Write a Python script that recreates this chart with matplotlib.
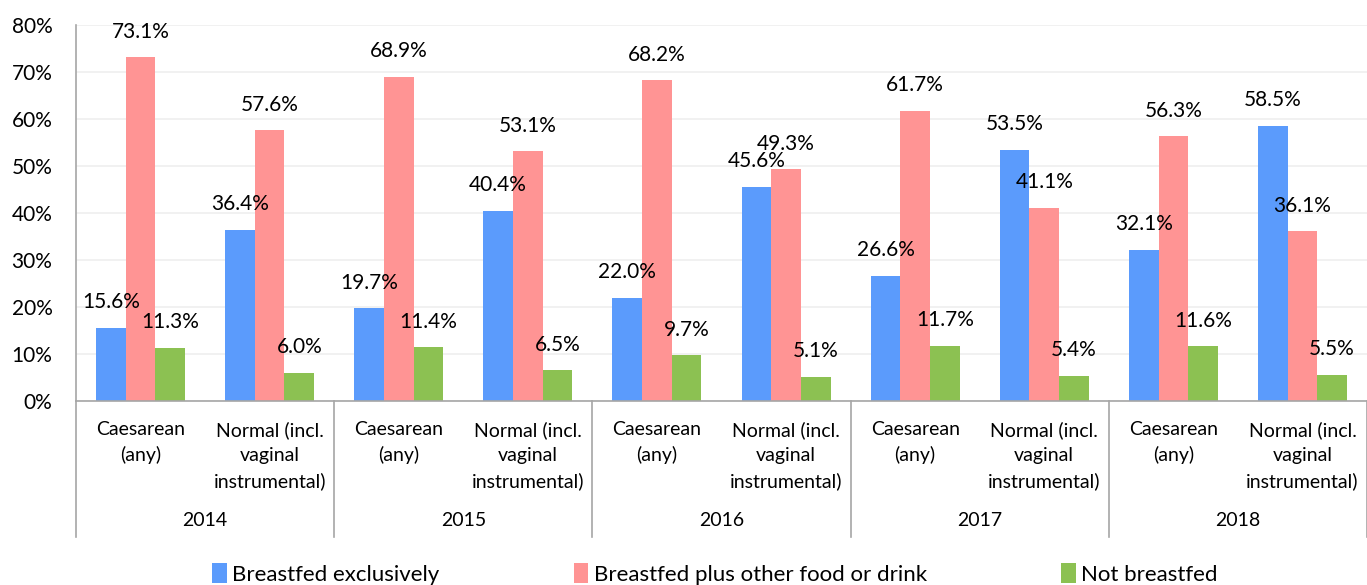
import matplotlib
matplotlib.use("Agg")
import matplotlib.pyplot as plt
from matplotlib.patches import Patch
import matplotlib.transforms as mtransforms
import numpy as np

plt.rcParams['font.family'] = ['Lato', 'DejaVu Sans']

years = ['2014', '2015', '2016', '2017', '2018']
delivery = ['Caesarean\n(any)', 'Normal (incl.\nvaginal\ninstrumental)']
series_names = ['Breastfed exclusively', 'Breastfed plus other food or drink', 'Not breastfed']
exclusive = [15.6, 36.4, 19.7, 40.4, 22.0, 45.6, 26.6, 53.5, 32.1, 58.5]
plus_other = [73.1, 57.6, 68.9, 53.1, 68.2, 49.3, 61.7, 41.1, 56.3, 36.1]
not_bf = [11.3, 6.0, 11.4, 6.5, 9.7, 5.1, 11.7, 5.4, 11.6, 5.5]

colors = ['#5B9BFC', '#FF9494', '#8CC152']

fig = plt.figure(figsize=(13.67, 5.85), dpi=100)
ax = fig.add_axes([76/1367, 1-401/585, 1-76/1367, (401-25)/585])

n = len(exclusive)
x = np.arange(n)
w = 0.23
for i, (vals, c) in enumerate(zip([exclusive, plus_other, not_bf], colors)):
    xs = x + (i - 1) * w
    ax.bar(xs, vals, width=w, color=c, zorder=2)
    for xi, v in zip(xs, vals):
        ax.annotate(f'{v:.1f}%', (xi, v), xytext=(0, 18.5), textcoords='offset points',
                    ha='center', va='center', fontsize=15, color='#000000', zorder=3)

ax.set_xlim(-0.5, n - 0.5)
ax.set_ylim(0, 80)
ax.set_yticks(np.arange(0, 81, 10))
ax.set_yticklabels([f'{t}%' for t in range(0, 81, 10)], fontsize=15)
ax.tick_params(axis='y', length=0, pad=17)
ax.tick_params(axis='x', length=0)
ax.set_xticks([])
ax.grid(axis='y', color='#EFEFEF', linewidth=1.2, zorder=0)
for s in ['top', 'right']:
    ax.spines[s].set_visible(False)
ax.spines['left'].set_color('#A6A6A6')
ax.spines['bottom'].set_color('#A6A6A6')
ax.spines['left'].set_linewidth(1.2)
ax.spines['bottom'].set_linewidth(1.2)

# multi-level category axis
trans = mtransforms.blended_transform_factory(ax.transData, fig.transFigure)
for k in range(n):
    ax.text(k, 1 - 421/585, delivery[k % 2], transform=trans, ha='center', va='top',
            fontsize=14, linespacing=1.55)
for j, yr in enumerate(years):
    ax.text(2 * j + 0.5, 1 - 521/585, yr, transform=trans, ha='center', va='center', fontsize=14)
for b in np.arange(-0.5, n, 2):
    ax.plot([b, b], [1 - 401/585, 1 - 537/585], transform=trans, color='#A6A6A6',
            linewidth=1.2, clip_on=False)

handles = [Patch(facecolor=c, edgecolor='none') for c in colors]
fig.legend(handles, series_names, loc='center', bbox_to_anchor=(0.523, 1 - 574/585), ncol=3,
           frameon=False, fontsize=16, handlelength=0.65, handleheight=1.0, handletextpad=0.25,
           columnspacing=6.05)

fig.savefig('out.png', dpi=100)
